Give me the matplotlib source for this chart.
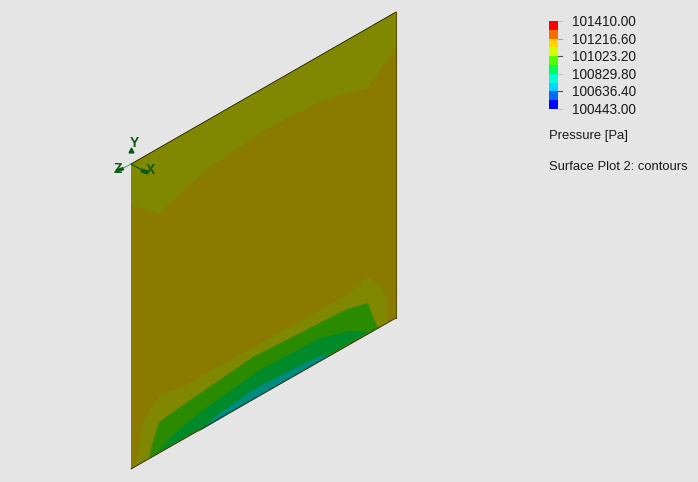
import matplotlib
matplotlib.use('Agg')
import matplotlib.pyplot as plt
from matplotlib.patches import Polygon, Rectangle

plt.rcParams['font.family'] = ['Liberation Sans', 'DejaVu Sans']

# colours
bg = '#e5e5e5'
c_base = '#8a7a00'
c_olive = '#7f8800'
c_green1 = '#2a8a00'
c_green2 = '#008a2a'
c_teal = '#008a80'

# contour outlines, in image pixels
panel = [(131, 164), (396, 12), (396, 318), (131, 469)]
top_band = [(131, 164), (396, 12), (396, 48), (367, 88), (318, 102), (262, 132),
            (208, 168), (159, 214), (131, 205)]
low1 = [(131, 469), (138, 458), (142, 427), (146, 417), (160, 395), (178, 389), (347, 295),
        (367, 277), (382, 287), (387, 300), (388, 322)]
low2 = [(149, 458), (152, 445), (159, 422), (180, 407), (253, 357), (347, 309), (368, 303),
        (371, 312), (378, 328)]
low3 = [(157, 453), (175, 433), (203, 410), (260, 370), (320, 338), (350, 331), (368, 332)]
low4 = [(198, 432), (220, 413), (253, 390), (287, 372), (320, 356), (328, 356)]

# legend
bar_colors = ['#ff0000', '#ff6a00', '#ffd500', '#d5ff00', '#55ff00',
              '#00ff55', '#00ffd5', '#00d5ff', '#006aff', '#0000ff']
bar_labels = ['101410.00', '101216.60', '101023.20', '100829.80', '100636.40', '100443.00']
tick_colors = ['#c4c4c4', '#a0a0a0', '#505050', '#c4c4c4', '#505050', '#c4c4c4']

fig = plt.figure(figsize=(6.98, 4.82), dpi=100, facecolor=bg)
ax = fig.add_axes([0, 0, 1, 1])
ax.set_xlim(0, 698)
ax.set_ylim(482, 0)
ax.axis('off')

ax.add_patch(Polygon(panel, fc=c_base, ec='none'))
for pts, col in [(top_band, c_olive), (low1, c_olive), (low2, c_green1),
                 (low3, c_green2), (low4, c_teal)]:
    ax.add_patch(Polygon(pts, fc=col, ec='none'))

# only the top, right and bottom edges show a dark line
ax.plot([panel[0][0], panel[1][0]], [panel[0][1], panel[1][1]], color='#222200', lw=0.6)
ax.plot([panel[1][0], panel[2][0]], [panel[1][1], panel[2][1]], color='#5a5000', lw=0.8)
ax.plot([panel[2][0], panel[3][0]], [panel[2][1], panel[3][1]], color='#222200', lw=0.6)

# colour bar
bar_x, bar_top, bar_h = 549, 21, 88
step = bar_h / len(bar_colors)
for i, col in enumerate(bar_colors):
    ax.add_patch(Rectangle((bar_x, bar_top + i * step), 9, step + 0.3, fc=col, ec='none'))
for i, lab in enumerate(bar_labels):
    y = bar_top + i * bar_h / (len(bar_labels) - 1)
    ax.plot([bar_x + 9, bar_x + 13], [y, y], color=tick_colors[i], lw=0.8)
    ax.text(572, y + 1, lab, fontsize=9.8, color='#1a1a1a', va='center', ha='left')
ax.text(549, 135.5, 'Pressure [Pa]', fontsize=9.4, color='#1a1a1a', va='center')
ax.text(549, 166.5, 'Surface Plot 2: contours', fontsize=9.4, color='#1a1a1a', va='center')

# axis triad
triad = '#0b5a16'
ax.plot([131, 146], [164, 172], color=triad, lw=0.8)
ax.plot([131, 120], [164, 170], color='#3fa050', lw=0.7)
ax.plot([143, 146], [171, 172], color=triad, lw=3)
ax.plot([118, 122], [170.5, 169], color=triad, lw=2.5)
ax.plot([130.5], [150], marker='^', ms=3.5, color=triad)
ax.text(151, 169.5, 'X', fontsize=10, color=triad, ha='center', va='center', fontweight='bold')
ax.text(134.5, 143, 'Y', fontsize=10, color=triad, ha='center', va='center', fontweight='bold')
ax.text(118, 169, 'Z', fontsize=10, color=triad, ha='center', va='center', fontweight='bold')

fig.savefig('out.png', dpi=100, facecolor=bg)
